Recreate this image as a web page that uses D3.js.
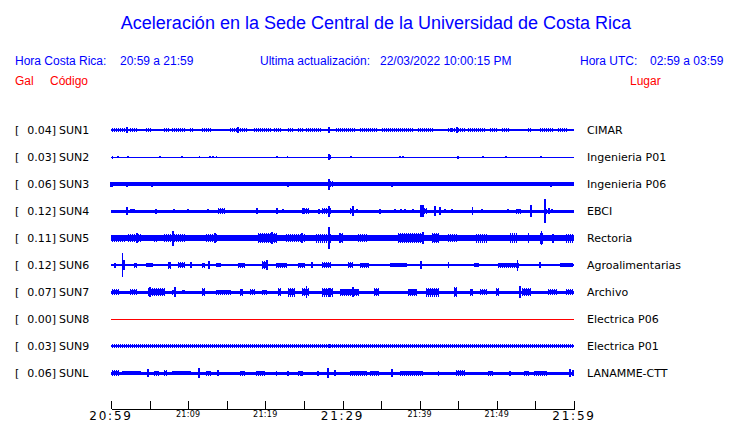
<!DOCTYPE html>
<html>
<head>
<meta charset="utf-8">
<script src="https://cdn.jsdelivr.net/npm/d3@7"></script>
<style>
  html, body { margin: 0; padding: 0; background: #ffffff; }
  svg { display: block; }
</style>
</head>
<body>
<script>
// ---------------- DATA ----------------
const codes  = ["SUN1","SUN2","SUN3","SUN4","SUN5","SUN6","SUN7","SUN8","SUN9","SUNL"];
const gains  = ["0.04","0.03","0.06","0.12","0.11","0.12","0.07","0.00","0.03","0.06"];
const places = ["CIMAR","Ingenieria P01","Ingenieria P06","EBCI","Rectoria","Agroalimentarias","Archivo","Electrica P06","Electrica P01","LANAMME-CTT"];
const traceColors = ["blue","blue","blue","blue","blue","blue","blue","red","blue","blue"];

// time axis (minutes after 20:59)
const tickMinutes  = [0,5,10,15,20,25,30,35,40,45,50,55,60];
const labelMinutes = [0,10,20,30,40,50,60];
const tickLabels   = ["20:59","21:09","21:19","21:29","21:39","21:49","21:59"];
const bigLabels    = [true,false,false,true,false,false,true];

// background amplitude of each trace (relative units, row half-height = 13.5)
const baseAmp = [0.8, 0.5, 1.7, 1.5, 2.8, 1.4, 1.5, 0.5, 1.1, 1.5];

// bursts: [startMinute, endMinute, amplitude]
const bursts1 = [[0,1.8,1.8],[2.5,3.5,1.8],[4.4,5.3,1.8],[6.7,7.6,1.8],[7.9,9.6,1.8],[10.2,10.6,1.8],[11.8,13.1,1.8],[15.4,16.3,1.8],[16.7,17.8,1.8],[18.4,20.9,1.8],[21,22.2,1.8],[22.8,23.6,1.8],[24.1,24.9,1.8],[25.1,27.3,1.8],[29,31.6,1.8],[32.3,34.6,1.8],[35.1,39.1,1.8],[39.7,41.7,1.8],[43.5,45.9,1.8],[46.3,48.5,1.8],[49.1,50,1.8],[50.7,51.7,1.8],[54,54.6,1.8],[55.6,57.3,1.8],[57.8,59.1,1.8]];
const bursts2 = [[0,0.4,1.3],[28,28.6,2]];
const bursts3 = [[28,28.8,3]];
const bursts4 = [[2.46,3.24,2.3],[13.87,14.77,3],[25,25.8,2.8],[27.34,28.64,3.2],[30.84,31.4,3],[40,40.95,3],[52.45,53.22,2.5],[56.1,56.5,2.5]];
const bursts5 = [[0,1.8,3.5],[2.2,4,4],[5.5,5.9,3.5],[6.7,9.6,4],[12.2,13.9,4.2],[18.9,21.6,5],[22.6,25.1,4],[26.4,28.6,4.5],[29.7,30.1,5],[31.9,33.2,4.3],[37,40.4,5],[41.5,42.6,5],[43.5,44.8,4],[47.2,48.7,4.5],[51.7,52.6,4.8],[53.9,54.3,5],[55.6,56,5.5],[57.2,57.4,4],[59,60,4.5]];
const bursts6 = [[2.85,3.37,2.5],[4.41,5.44,2.3],[7.39,7.9,3.5],[8.68,9.59,3.3],[11.79,12.18,2.5],[13.48,14.38,2.3],[16.46,17.37,2.5],[19.57,20.35,3.7],[21.25,22.94,2.5],[24.23,25.14,2.5],[27.34,28.64,2.7],[30.58,31.36,3.3],[32.27,33.56,2.5],[36.16,38.36,2.3],[43.54,43.93,3.3],[46.91,47.82,2.3],[50.02,53,2.5],[58.19,59.87,2.3]];
const bursts7 = [[0,1.2,2.7],[2.46,3.5,3],[4.67,7,4],[7.9,8.29,2.5],[9.2,9.59,2.3],[11.79,12.18,4],[13.48,15.68,2.5],[16.72,17.11,3.5],[18.01,18.66,3],[19.57,20.35,2.5],[21.64,22.16,4],[22.81,23.84,4.5],[24.75,25.79,4],[27.2,28.77,4.5],[29.68,32.27,3.5],[33.95,34.86,4],[38.49,39.66,3.5],[40.69,42.63,4.5],[44.32,44.97,5],[46.52,46.91,3.5],[47.82,48.73,3.3],[49.76,50.41,3.7],[53.26,54.56,4],[56.63,57.8,3],[58.83,59.87,3]];
const bursts8 = [];
const bursts9 = [[0,60,1.6]];
const burstsL = [[0,1.2,3],[1.43,4.02,2.3],[5.44,6.35,2.5],[6.74,7.26,3.3],[7.9,10.5,2.3],[12.18,13.09,2.5],[16.72,17.37,2.5],[18.66,19.96,2.5],[21.25,21.64,2.5],[24.23,24.75,2.5],[30.97,33.17,2.5],[33.56,34.86,2.5],[37.45,40.43,2.5],[42.25,42.63,2.5],[44.58,45.87,3.3],[48.73,49.5,2.5],[53.39,54.3,2.5],[54.69,56.5,2.5]];

// spikes: [minute, amplitude]
const spikes1 = [[2.07,3.3],[16.46,3],[28.25,3.3],[30.5,2],[44.2,2.2],[44.84,2.7],[45.3,2]];
const spikes2 = [[0.2,1.5],[0.9,1.3],[2.2,1.2],[6.35,1],[9.2,1.2],[11.5,1],[12.8,1.2],[13.2,1.2],[13.7,1.2],[21.5,1],[22.9,1.2],[28.25,3.3],[31.1,1],[37.45,1.2],[37.84,1.2],[44.97,1.5],[48.2,1],[51.2,1],[55.7,1.2]];
const spikes3 = [[0,2.5],[0.1,2.5],[2.07,2.5],[5.31,2.5],[8.16,2.3],[9.33,2.3],[10.76,2.3],[13.61,2.3],[22.94,2.5],[28.25,5.5],[36.41,2.5],[57.02,2.5]];
const spikes4 = [[2.07,4.3],[5.83,2.5],[8.16,2.3],[9.98,2],[12.57,2.3],[14.2,3.3],[18.92,3],[21.51,3],[22.29,2.3],[24.88,3],[26.95,2.5],[28.25,5.5],[31.36,5.3],[31.88,2.3],[34.86,2.5],[36.8,2],[37.6,2],[38.1,2],[39.14,2],[40.17,6],[40.43,6],[41.99,4.7],[42.63,4],[43.28,2.3],[44.19,2.3],[46.85,3.8],[48.08,2.3],[51.45,2],[54.43,6.3],[56.24,12.3],[56.76,3],[57.15,2]];
const spikes5 = [[3.37,5],[8.03,7.5],[13.48,5],[20.87,6.3],[24.75,5],[28.25,10.8],[29.68,5],[40.43,6],[55.8,6.7],[57.28,4.5]];
const spikes6 = [[0.52,2.5],[1.47,12],[1.7,5],[10.37,2.7],[12.7,4.3],[20.2,4.7],[26.05,2.7],[40.17,4.3],[52.7,5.5],[55.59,3.3]];
const spikes7 = [[5.05,5.3],[8.29,5.3],[25.36,6],[28.25,4.5],[31.36,5],[53.0,6.3]];
const spikes8 = [];
const spikes9 = [[28.25,2]];
const spikesL = [[4.79,4],[11.4,4.7],[13.87,3],[22.94,2.5],[24.75,2.5],[26.82,2.5],[28.12,5.3],[29.03,3],[36.41,3.7],[51.71,2.5],[59.48,3.7],[59.87,3]];

const allBursts = [bursts1,bursts2,bursts3,bursts4,bursts5,bursts6,bursts7,bursts8,bursts9,burstsL];
const allSpikes = [spikes1,spikes2,spikes3,spikes4,spikes5,spikes6,spikes7,spikes8,spikes9,spikesL];

// header texts
const titleText = "Aceleración en la Sede Central de la Universidad de Costa Rica";
const headerLabels = ["Hora Costa Rica:", "20:59 a 21:59", "Ultima actualización:", "22/03/2022 10:00:15 PM", "Hora UTC:", "02:59 a 03:59"];
const columnLabels = ["Gal", "Código", "Lugar"];

// ---------------- DRAWING ----------------
const W = 740, H = 423;
const BLUE = "#0000ff", RED = "#ff0000";
const svg = d3.select("body").append("svg").attr("width", W).attr("height", H);

// comb pattern used to give bursts a jagged, sample-by-sample edge
const defs = svg.append("defs");
const comb = defs.append("pattern").attr("id", "comb").attr("patternUnits", "userSpaceOnUse")
  .attr("width", 2).attr("height", 40).attr("y", -20);
comb.append("rect").attr("x", 0).attr("y", 0).attr("width", 1).attr("height", 40).attr("fill", BLUE);

const x = d3.scaleLinear().domain([0, 60]).range([111, 574]);
const rowY = d3.scaleLinear().domain([0, codes.length - 1]).range([130, 373]);
const amp = d3.scaleLinear().domain([0, 13.5]).range([0, 13.5]);

// title
svg.append("text").attr("x", 376).attr("y", 29).attr("text-anchor", "middle")
  .attr("font-family", "Liberation Sans, Arial, sans-serif").attr("font-size", 18)
  .attr("fill", BLUE).text(titleText);

const hdrX = [15, 120, 260, 380, 580, 650];
svg.selectAll("text.hdr").data(headerLabels).join("text").attr("class", "hdr")
  .attr("x", (d, i) => hdrX[i]).attr("y", 65)
  .attr("font-family", "Liberation Sans, Arial, sans-serif").attr("font-size", 12)
  .attr("fill", BLUE).text(d => d);

const colX = [15, 50, 630];
svg.selectAll("text.col").data(columnLabels).join("text").attr("class", "col")
  .attr("x", (d, i) => colX[i]).attr("y", 85)
  .attr("font-family", "Liberation Sans, Arial, sans-serif").attr("font-size", 12)
  .attr("fill", RED).text(d => d);

// rows
const rows = svg.selectAll("g.row").data(codes).join("g").attr("class", "row")
  .attr("transform", (d, i) => `translate(0,${rowY(i)})`);

const lblFont = "DejaVu Sans, Verdana, sans-serif";
rows.append("text").attr("x", 15).attr("y", 4).attr("font-family", lblFont).attr("font-size", 11)
  .attr("fill", "#000").text("[");
rows.append("text").attr("x", 56).attr("y", 4).attr("text-anchor", "end").attr("font-family", lblFont)
  .attr("font-size", 11).attr("fill", "#000").text((d, i) => gains[i] + "]");
rows.append("text").attr("x", 59).attr("y", 4).attr("font-family", lblFont).attr("font-size", 11)
  .attr("fill", "#000").text(d => d);
rows.append("text").attr("x", 587).attr("y", 4).attr("font-family", lblFont).attr("font-size", 11)
  .attr("fill", "#000").text((d, i) => places[i]);

const traces = rows.append("g").attr("shape-rendering", "crispEdges")
  .attr("fill", (d, i) => traceColors[i] === "red" ? RED : BLUE);

traces.append("rect")
  .attr("x", x(0)).attr("width", x(60) - x(0))
  .attr("y", (d, i) => -amp(baseAmp[i])).attr("height", (d, i) => 2 * amp(baseAmp[i]));

traces.each(function (d, i) {
  const g = d3.select(this);
  const base = baseAmp[i];
  // outer comb envelope
  g.selectAll("rect.burstOuter").data(allBursts[i]).join("rect").attr("class", "burstOuter")
    .attr("fill", "url(#comb)")
    .attr("x", b => x(b[0])).attr("width", b => Math.max(1, x(b[1]) - x(b[0])))
    .attr("y", b => -amp(b[2])).attr("height", b => 2 * amp(b[2]));
  // solid core
  g.selectAll("rect.burstCore").data(allBursts[i]).join("rect").attr("class", "burstCore")
    .attr("x", b => x(b[0]) + 1).attr("width", b => Math.max(1, x(b[1]) - x(b[0]) - 2))
    .attr("y", b => -amp(Math.max(base, b[2] * 0.72)))
    .attr("height", b => 2 * amp(Math.max(base, b[2] * 0.72)));
  g.selectAll("rect.spike").data(allSpikes[i]).join("rect").attr("class", "spike")
    .attr("x", s => x(s[0]) - 0.75).attr("width", 1.5)
    .attr("y", s => -amp(s[1])).attr("height", s => 2 * amp(s[1]));
});

// time axis
const axis = d3.axisTop(x).tickValues(tickMinutes).tickFormat("").tickSize(8).tickSizeOuter(0);
const ag = svg.append("g").attr("transform", "translate(0,409)").attr("shape-rendering", "crispEdges").call(axis);
ag.select(".domain").attr("stroke", "#000");
ag.selectAll(".tick line").attr("stroke", "#000");

svg.selectAll("text.tlab").data(tickLabels).join("text").attr("class", "tlab")
  .attr("x", (d, i) => x(labelMinutes[i])).attr("y", (d, i) => bigLabels[i] ? 420 : 417)
  .attr("text-anchor", "middle").attr("font-family", lblFont)
  .attr("font-size", (d, i) => bigLabels[i] ? 12 : 8)
  .attr("letter-spacing", (d, i) => bigLabels[i] ? 1.8 : 0.3)
  .attr("fill", "#000").text(d => d);
</script>
</body>
</html>
